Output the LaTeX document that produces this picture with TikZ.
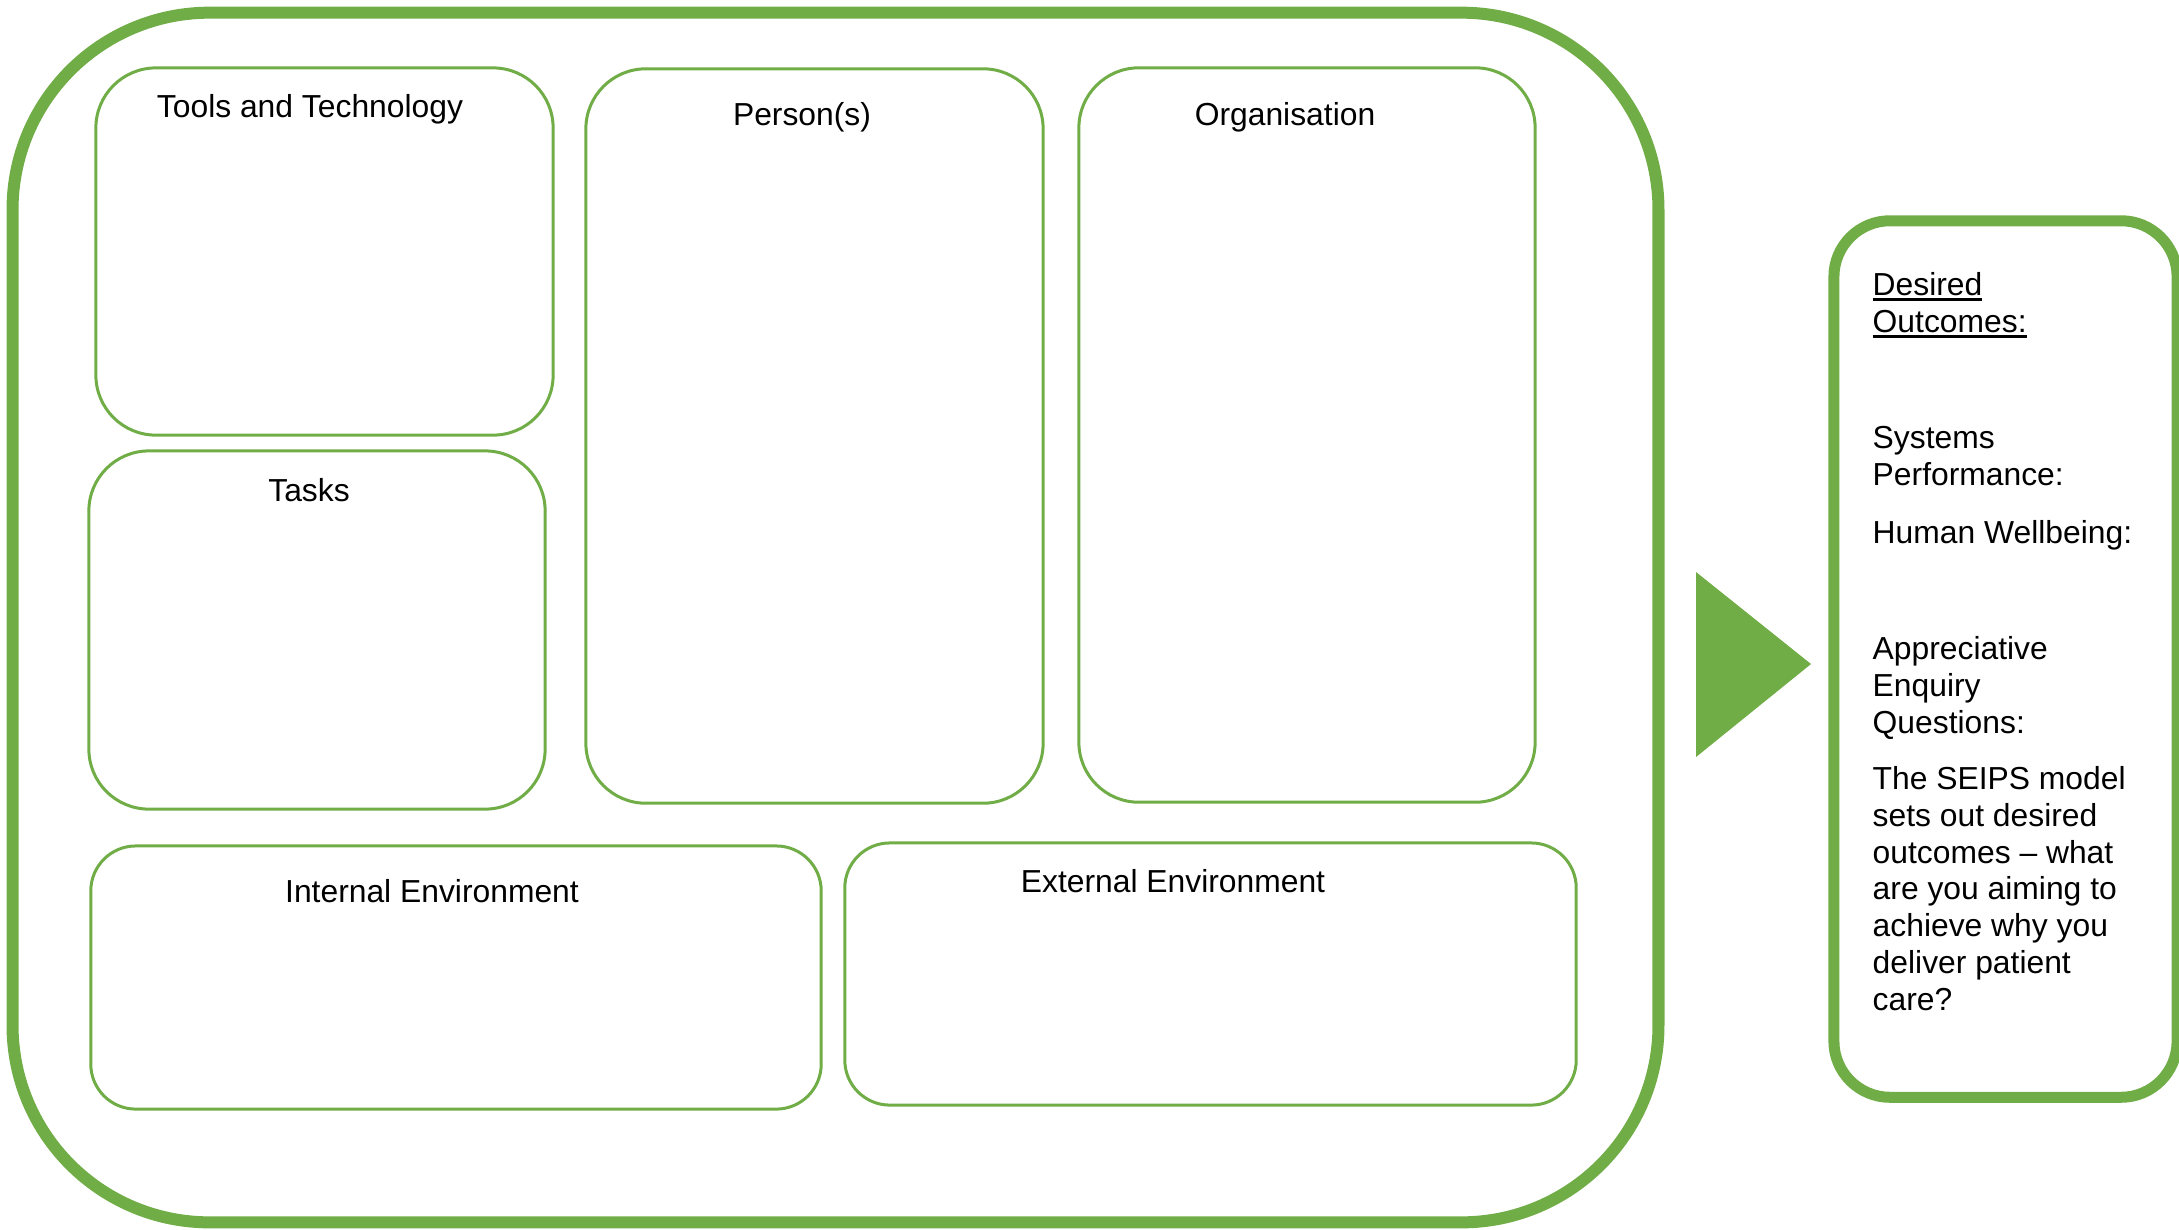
\documentclass[tikz,border=0pt]{standalone}
\usepackage{fontspec}
\setmainfont{Liberation Sans}
\usepackage{tikz}
\definecolor{seipsgreen}{RGB}{112,173,71}
\newcommand{\ulword}[1]{\setbox0\hbox{#1}\rlap{\rule[-1.7pt]{\wd0}{0.85pt}}\box0}
\tikzstyle{part}=[shape=rectangle,draw=seipsgreen,line width=0.03cm,rounded corners=0.6cm,inner sep=0pt]
\tikzstyle{frame}=[shape=rectangle,draw=seipsgreen,line width=0.12cm,inner sep=0pt]
\tikzstyle{heading}=[anchor=base,inner sep=0pt,font=\fontsize{9.05pt}{10.44pt}\selectfont]
\tikzstyle{note}=[anchor=base west,align=left,inner sep=0pt,font=\fontsize{9.05pt}{10.44pt}\selectfont]

\begin{document}
\begin{tikzpicture}[x=0.01cm,y=-0.01cm]
        \useasboundingbox (0,0) rectangle (2179,1229);
        \node[frame, rounded corners=1.97cm, minimum width=16.45cm, minimum height=12.09cm] (system) at (835.5, 617.5) {}
        ;
        \node[part, minimum width=4.57cm, minimum height=3.67cm] (tools) at (324.5, 251.5) {}
        ;
        \node[part, minimum width=4.56cm, minimum height=3.58cm] (tasks) at (317, 630) {}
        ;
        \node[part, minimum width=4.57cm, minimum height=7.34cm] (person) at (814.5, 436) {}
        ;
        \node[part, minimum width=4.56cm, minimum height=7.34cm] (organisation) at (1307, 435) {}
        ;
        \node[part, rounded corners=0.45cm, minimum width=7.30cm, minimum height=2.63cm] (internal) at (456, 977.5) {}
        ;
        \node[part, rounded corners=0.45cm, minimum width=7.31cm, minimum height=2.62cm] (external) at (1210.5, 974) {}
        ;
        \node[heading] (toolsT) at (310, 117) {Tools and Technology}
        ;
        \node[heading] (tasksT) at (309, 501) {Tasks}
        ;
        \node[heading] (personT) at (802, 125) {Person(s)}
        ;
        \node[heading] (organisationT) at (1285, 125) {Organisation}
        ;
        \node[heading] (internalT) at (432, 902) {Internal Environment}
        ;
        \node[heading] (externalT) at (1173, 892) {External Environment}
        ;
        \fill[seipsgreen] (1696, 572) -- (1811, 664) -- (1696, 757) -- cycle;
        \node[frame, line width=0.11cm, rounded corners=0.56cm, minimum width=3.43cm, minimum height=8.76cm] (outcomes) at (2005.5, 659) {}
        ;
        \node[note] (desired) at (1872, 332) {\ulword{Desired}\\\ulword{Outcomes:}}
        ;
        \node[note] (performance) at (1872, 485) {Systems\\Performance:}
        ;
        \node[note] (wellbeing) at (1872, 543) {Human Wellbeing:}
        ;
        \node[note] (enquiry) at (1872, 733) {Appreciative\\Enquiry\\Questions:}
        ;
        \node[note] (seips) at (1872, 1010) {The SEIPS model\\sets out desired\\outcomes -- what\\are you aiming to\\achieve why you\\deliver patient\\care?}
        ;
    \end{tikzpicture}
\end{document}
